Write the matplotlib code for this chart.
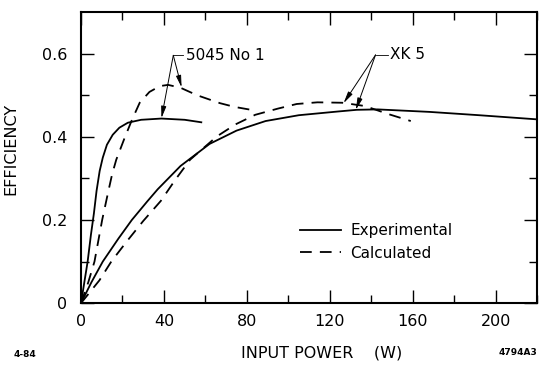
import numpy as np
import matplotlib
matplotlib.use("Agg")
import matplotlib.pyplot as plt

# 5045 No 1 tube
x_5045_exp = [0, 1.6, 3.2, 4.8, 6.2, 7.5, 9, 10.5, 12.5, 15.3, 18.5, 22.6,
              29, 38.8, 50, 58]
y_5045_exp = [0, 0.05, 0.1, 0.165, 0.215, 0.27, 0.318, 0.35, 0.381,
              0.405, 0.422, 0.434, 0.441, 0.444, 0.441, 0.435]
x_5045_calc = [0, 3.5, 6.5, 10.2, 13, 15, 17, 21, 24.5, 28.3, 33, 38, 42,
               48, 56, 67, 74, 82]
y_5045_calc = [0, 0.05, 0.1, 0.2, 0.265, 0.31, 0.345, 0.397, 0.44, 0.482,
               0.508, 0.522, 0.525, 0.518, 0.500, 0.481, 0.472, 0.465]

# XK 5 tube
x_xk5_exp = [0, 5, 10.5, 18, 24.5, 32, 37, 48, 62, 75, 89, 105, 124, 133,
             143, 168, 192, 220]
y_xk5_exp = [0, 0.05, 0.1, 0.155, 0.2, 0.245, 0.274, 0.33, 0.383, 0.415,
             0.438, 0.452, 0.461, 0.465, 0.466, 0.460, 0.452, 0.442]
x_xk5_calc = [0, 8.9, 14.6, 22, 29.9, 38.5, 45.5, 52.6, 65.5, 74.5, 84, 95,
              104, 114, 126, 137, 148, 159]
y_xk5_calc = [0, 0.055, 0.1, 0.148, 0.197, 0.246, 0.297, 0.345, 0.401,
              0.43, 0.453, 0.468, 0.479, 0.483, 0.482, 0.474, 0.455, 0.438]

# annotation: label, junction point, text start, arrow tips
notes = [
    ("5045 No 1", (44.5, 0.596), (50.5, 0.596), [(38.8, 0.445), (48.5, 0.519)]),
    ("XK 5", (142, 0.597), (149, 0.597), [(126.6, 0.481), (132.5, 0.465)]),
]

x_ticks = np.arange(0, 221, 40)
y_ticks = [0, 0.2, 0.4, 0.6]
y_tick_labels = ["0", "0.2", "0.4", "0.6"]

fig = plt.figure(figsize=(5.4, 3.67), dpi=100)
ax = fig.add_axes([0.150, 0.174, 0.845, 0.793])

lw = 1.3
dash = (6.5, 4.5)
ax.plot(x_5045_exp, y_5045_exp, color="k", lw=lw, label="Experimental")
ax.plot(x_5045_calc, y_5045_calc, color="k", lw=lw, dashes=dash,
        label="Calculated")
ax.plot(x_xk5_exp, y_xk5_exp, color="k", lw=lw)
ax.plot(x_xk5_calc, y_xk5_calc, color="k", lw=lw, dashes=dash)

for label, junc, txt, tips in notes:
    ax.plot([junc[0], txt[0] - 1.2], [junc[1], junc[1]], color="k", lw=0.6)
    ax.text(txt[0], txt[1], label, fontsize=11, va="center", ha="left")
    for tip in tips:
        ax.annotate("", xy=tip, xytext=junc,
                    arrowprops=dict(arrowstyle="-|>,head_length=0.7,head_width=0.15",
                                    color="k", lw=0.7, shrinkA=0, shrinkB=0))

ax.set_xlim(0, 220)
ax.set_ylim(0, 0.7)
ax.set_xticks(x_ticks)
ax.set_xticks(np.arange(20, 221, 40), minor=True)
ax.set_yticks(y_ticks)
ax.set_yticklabels(y_tick_labels)
ax.set_yticks([0.1, 0.3, 0.5], minor=True)
ax.tick_params(which="both", direction="in", top=True, right=True,
               labelsize=11.5, width=1.0)
ax.tick_params(which="major", length=9.5)
ax.tick_params(which="minor", length=6)
ax.tick_params(axis="x", pad=8)
ax.tick_params(axis="y", pad=10)
for s in ax.spines.values():
    s.set_linewidth(1.5)

ax.set_xlabel("INPUT POWER    (W)", fontsize=11.5)
ax.xaxis.set_label_coords(0.528, -0.145)
ax.set_ylabel("EFFICIENCY", fontsize=11.5)
ax.yaxis.set_label_coords(-0.138, 0.53)

ax.legend(loc="upper left", bbox_to_anchor=(0.48, 0.275), frameon=False,
          fontsize=11, handlelength=2.7, handletextpad=0.6, labelspacing=0.5,
          borderpad=0, borderaxespad=0)

fig.text(0.025, 0.028, "4-84", fontsize=6.5, fontweight="bold")
fig.text(0.995, 0.033, "4794A3", fontsize=6.5, fontweight="bold", ha="right")

fig.savefig("out.png", dpi=100)
